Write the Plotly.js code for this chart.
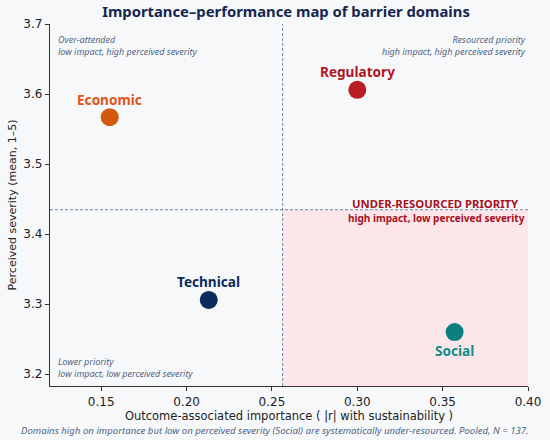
<!DOCTYPE html>
<html>
<head>
<meta charset="utf-8">
<script src="https://cdn.plot.ly/plotly-3.0.1.min.js"></script>
<style>html,body{margin:0;padding:0;background:#f7f8fa;}#chart{width:550px;height:440px;}</style>
</head>
<body>
<div id="chart"></div>
<script>
// Data
const domains = ["Economic", "Regulatory", "Technical", "Social"];
const importance = [0.155, 0.300, 0.213, 0.357];
const severity = [3.567, 3.606, 3.306, 3.260];
const dotColors = ["#d35a0c", "#b81c24", "#0c2a5c", "#0a8080"];
const labelColors = ["#e0531a", "#b0141e", "#0c2a5c", "#0e8e8a"];
const labelAbove = [true, true, true, false];
const xTicks = [0.15, 0.20, 0.25, 0.30, 0.35, 0.40];
const yTicks = [3.2, 3.3, 3.4, 3.5, 3.6, 3.7];

const xRange = [0.12, 0.40];
const yRange = [3.183, 3.70];
const mean = a => a.reduce((s, v) => s + v, 0) / a.length;
const xCut = mean(importance);
const yCut = mean(severity);

const FONT = "DejaVu Sans, Verdana, sans-serif";
const HFONT = "Noto Sans, Open Sans, sans-serif";
const slate = "#4f6584";

const trace = {
  type: "scatter",
  mode: "markers",
  x: importance,
  y: severity,
  marker: {size: 18, color: dotColors, line: {width: 0}},
  hoverinfo: "skip",
  showlegend: false
};

const annotations = domains.map((d, i) => ({
  x: importance[i], y: severity[i], xref: "x", yref: "y",
  text: "<b>" + d + "</b>", showarrow: false,
  font: {family: HFONT, size: 13.6, color: labelColors[i]},
  yshift: labelAbove[i] ? 18 : -18
}));

const quad = (x, y, xa, ya, txt, font) => ({
  x: x, y: y, xref: "paper", yref: "paper", xanchor: xa, yanchor: ya,
  text: txt, showarrow: false, align: xa === "left" ? "left" : "right", font: font
});
const italic = {family: HFONT, size: 9, color: slate};
annotations.push(quad(0.012, 0.98, "left", "top", "<i>Over-attended<br>low impact, high perceived severity</i>", italic));
annotations.push(quad(1.0, 0.98, "right", "top", "<i>Resourced priority<br>high impact, high perceived severity</i>", italic));
annotations.push(quad(0.012, 0.01, "left", "bottom", "<i>Lower priority<br>low impact, low perceived severity</i>", italic));
annotations.push({x: 0.985, y: yCut, xref: "paper", yref: "y", xanchor: "right", yanchor: "middle",
  text: "<b>UNDER-RESOURCED PRIORITY</b>", showarrow: false, yshift: 6,
  font: {family: HFONT, size: 11.3, color: "#a8101c"}});
annotations.push({x: 0.997, y: yCut, xref: "paper", yref: "y", xanchor: "right", yanchor: "middle",
  text: "<b>high impact, low perceived severity</b>", showarrow: false, yshift: -8,
  font: {family: HFONT, size: 10, color: "#a8101c"}});
annotations.push({x: 0.5, y: 0, xref: "paper", yref: "paper", xanchor: "center", yanchor: "middle",
  xshift: -14, yshift: -44, showarrow: false,
  text: "<i>Domains high on importance but low on perceived severity (Social) are systematically under-resourced. Pooled, N = 137.</i>",
  font: {family: HFONT, size: 9.6, color: slate}});

const shapes = [
  {type: "rect", xref: "x", yref: "y", x0: xCut, x1: xRange[1], y0: yRange[0], y1: yCut,
   fillcolor: "#fce6ea", line: {width: 0}, layer: "below"},
  {type: "line", xref: "x", yref: "paper", x0: xCut, x1: xCut, y0: 0, y1: 1,
   line: {color: "#5f7a96", width: 0.9, dash: "3px,2px"}},
  {type: "line", xref: "paper", yref: "y", x0: 0, x1: 1, y0: yCut, y1: yCut,
   line: {color: "#5f7a96", width: 0.9, dash: "3px,2px"}}
];

const layout = {
  width: 550, height: 440,
  paper_bgcolor: "#f7f8fa", plot_bgcolor: "#f7f8fa",
  margin: {l: 50, r: 22, t: 24, b: 54},
  font: {family: FONT, color: "#222"},
  title: {text: "<b>Importance–performance map of barrier domains</b>",
    font: {family: HFONT, size: 14.8, color: "#14264f"}, x: 0.52, xanchor: "center", y: 0.985, yanchor: "top"},
  xaxis: {range: xRange, tickvals: xTicks, ticktext: xTicks.map(v => v.toFixed(2)),
    showgrid: false, zeroline: false, showline: true, linecolor: "#333", linewidth: 1.2,
    ticks: "outside", ticklen: 4, tickcolor: "#333", tickfont: {size: 12, color: "#222"},
    title: {text: "Outcome-associated importance ( |r| with sustainability )", font: {size: 11.5, color: "#222"}, standoff: 2}},
  yaxis: {range: yRange, tickvals: yTicks, ticktext: yTicks.map(v => v.toFixed(1)),
    showgrid: false, zeroline: false, showline: true, linecolor: "#333", linewidth: 1.2,
    ticks: "outside", ticklen: 4, tickcolor: "#333", tickfont: {size: 12, color: "#222"},
    title: {text: "Perceived severity (mean, 1–5)", font: {size: 11, color: "#222"}, standoff: 4}},
  shapes: shapes,
  annotations: annotations,
  showlegend: false
};

Plotly.newPlot("chart", [trace], layout, {displayModeBar: false, staticPlot: true});
</script>
</body>
</html>
